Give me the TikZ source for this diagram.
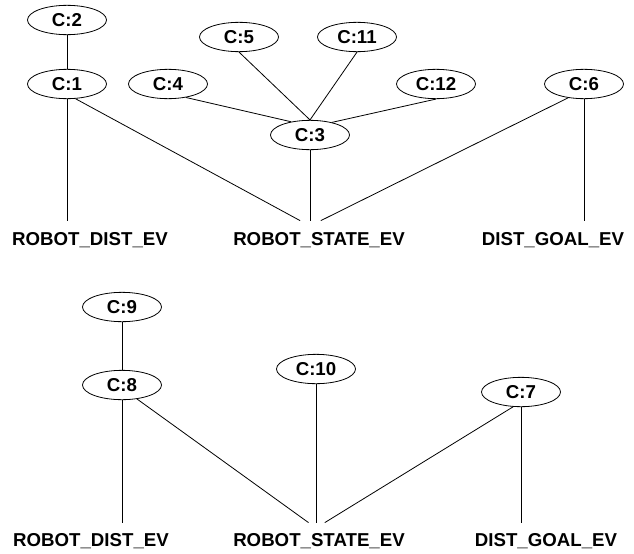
\documentclass[tikz,border=0pt]{standalone}
\usepackage{fontspec}
\setmainfont{Liberation Sans}
\usepackage{tikz}
\usetikzlibrary{shapes}

\begin{document}
\begin{tikzpicture}[x=0.75pt, y=-0.75pt, line width=0.6pt,
	cnode/.style={ellipse, draw, minimum width=59.25pt, minimum height=22pt, inner sep=0, font=\bfseries\fontsize{14}{16}\selectfont},
	evlabel/.style={anchor=base, inner sep=0, font=\bfseries\fontsize{14}{16}\selectfont},
	hub/.style={rectangle, inner sep=0, minimum width=30pt, minimum height=7.5pt}
]
\useasboundingbox (0,0) rectangle (634,553);

% upper tree
\node[cnode] (c2) at (67, 20) {C:2};
\node[cnode] (c1) at (67, 84) {C:1};
\node[cnode] (c4) at (168, 84) {C:4};
\node[cnode] (c5) at (239, 37) {C:5};
\node[cnode] (c11) at (357, 37) {C:11};
\node[cnode] (c12) at (436, 84) {C:12};
\node[cnode] (c3) at (310, 135) {C:3};
\node[cnode] (c6) at (584, 84) {C:6};

\node[evlabel] (rdl1) at (90, 245) {ROBOT\_DIST\_EV};
\node[evlabel] (rsl1) at (319, 245) {ROBOT\_STATE\_EV};
\node[evlabel] (dgl1) at (553, 245) {DIST\_GOAL\_EV};
\node[hub] (rdh1) at (67, 226) {};
\node[hub] (rsh1) at (310, 226) {};
\node[hub] (dgh1) at (584, 226) {};

\draw (c2) -- (c1);
\draw (c4.-37) -- (c3.145);
\draw (c5.south) -- (c3.north);
\draw (c11.south) -- (c3.north);
\draw (c12.south) -- (c3.30);
\draw (c1.south) -- (rdh1);
\draw (c1.-60) -- (rsh1);
\draw (c3.south) -- (rsh1);
\draw (c6.-139) -- (rsh1);
\draw (c6.south) -- (dgh1);

% lower tree
\node[cnode] (c9) at (122, 307) {C:9};
\node[cnode] (c8) at (122, 385) {C:8};
\node[cnode] (c10) at (316, 369) {C:10};
\node[cnode] (c7) at (521, 392) {C:7};

\node[evlabel] (rdl2) at (91, 546) {ROBOT\_DIST\_EV};
\node[evlabel] (rsl2) at (319, 546) {ROBOT\_STATE\_EV};
\node[evlabel] (dgl2) at (546, 546) {DIST\_GOAL\_EV};
\node[hub] (rdh2) at (122, 528) {};
\node[hub] (rsh2) at (316, 528) {};
\node[hub] (dgh2) at (521, 528) {};

\draw (c9) -- (c8);
\draw (c8.south) -- (rdh2);
\draw (c8.-43) -- (rsh2);
\draw (c10.south) -- (rsh2);
\draw (c7.-118) -- (rsh2);
\draw (c7.south) -- (dgh2);
\end{tikzpicture}
\end{document}
